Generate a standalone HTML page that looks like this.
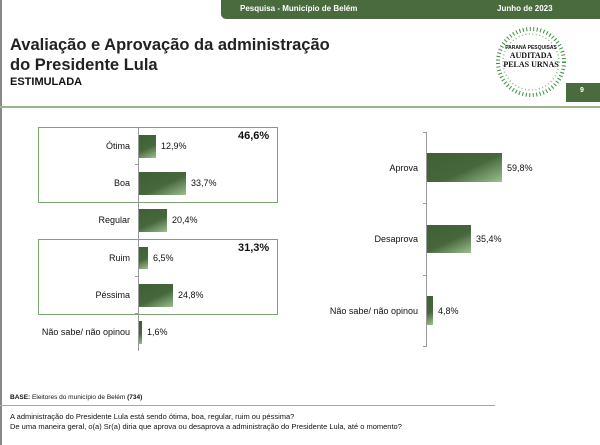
<!DOCTYPE html>
<html><head><meta charset="utf-8"><style>
body{margin:0;width:600px;height:445px;background:#fff;position:relative;overflow:hidden;font-family:"Liberation Sans",Arial,sans-serif;color:#111}
.a{position:absolute}
.t{position:absolute;font-size:9px;white-space:nowrap}
.bar{position:absolute;background:linear-gradient(155deg,#3f5f35 0%,#46673c 55%,#9cc08f 100%)}
.r{text-align:right}
.tk{position:absolute;width:4px;height:1px;background:#999}
</style></head><body>
<div class="a" style="left:0;top:0;width:2px;height:445px;background:#888"></div>
<div class="a" style="left:221px;top:0;width:379px;height:19px;background:#4a6b3e;border-bottom-left-radius:5px"></div>
<div class="t" style="left:240px;top:4px;color:#fff;font-weight:bold;font-size:8px">Pesquisa - Município de Belém</div>
<div class="t" style="left:497px;top:4px;color:#fff;font-weight:bold;font-size:8px">Junho de 2023</div>
<div class="t" style="left:10px;top:35px;font-size:16.5px;font-weight:bold;line-height:20px;color:#222">Avaliação e Aprovação da administração<br>do Presidente Lula</div>
<div class="t" style="left:10px;top:76px;font-size:11px;font-weight:bold">ESTIMULADA</div>
<svg class="a" style="left:493px;top:24px" width="76" height="76"><circle cx="38" cy="38" r="33" fill="none" stroke="#3e8e3e" stroke-width="4" stroke-dasharray="1 2.5"/><circle cx="38" cy="38" r="28" fill="none" stroke="#8aba8a" stroke-width="1.5" stroke-dasharray="1 2.5"/></svg>
<div class="t" style="left:500px;top:45px;width:62px;text-align:center;font-size:5px;font-weight:bold;line-height:7px">PARANÁ PESQUISAS<br><span style="font-size:8px;font-family:'Liberation Serif',serif">AUDITADA<br>PELAS URNAS</span></div>
<div class="a" style="left:566px;top:83px;width:34px;height:19px;background:#4a6b3e"></div>
<div class="t" style="left:580px;top:87px;color:#fff;font-size:7px;font-weight:bold">9</div>
<div class="a" style="left:0;top:106px;width:600px;height:2px;background:#9bb48f"></div>

<div class="a" style="left:38px;top:127px;width:238px;height:74px;border:1px solid #7aa56e"></div>
<div class="a" style="left:38px;top:239px;width:238px;height:74px;border:1px solid #7aa56e"></div>
<div class="a" style="left:138px;top:127px;width:1px;height:224px;background:#999"></div>
<div class="tk" style="left:135px;top:164px"></div><div class="tk" style="left:135px;top:239px"></div><div class="tk" style="left:135px;top:276px"></div><div class="tk" style="left:135px;top:313px"></div>
<div class="bar" style="left:139px;top:135px;width:17px;height:23px"></div>
<div class="bar" style="left:139px;top:172px;width:47px;height:23px"></div>
<div class="bar" style="left:139px;top:209px;width:28px;height:23px"></div>
<div class="bar" style="left:139px;top:247px;width:9px;height:22px"></div>
<div class="bar" style="left:139px;top:284px;width:34px;height:23px"></div>
<div class="bar" style="left:139px;top:321px;width:3px;height:23px"></div>
<div class="t r" style="left:30px;width:100px;top:141px">Ótima</div>
<div class="t r" style="left:30px;width:100px;top:178px">Boa</div>
<div class="t r" style="left:30px;width:100px;top:215px">Regular</div>
<div class="t r" style="left:30px;width:100px;top:253px">Ruim</div>
<div class="t r" style="left:30px;width:100px;top:290px">Péssima</div>
<div class="t r" style="left:30px;width:100px;top:327px">Não sabe/ não opinou</div>
<div class="t" style="left:161px;top:141px">12,9%</div>
<div class="t" style="left:191px;top:178px">33,7%</div>
<div class="t" style="left:172px;top:215px">20,4%</div>
<div class="t" style="left:153px;top:253px">6,5%</div>
<div class="t" style="left:178px;top:290px">24,8%</div>
<div class="t" style="left:147px;top:327px">1,6%</div>
<div class="t" style="left:238px;top:130px;font-size:11px;font-weight:bold">46,6%</div>
<div class="t" style="left:238px;top:242px;font-size:11px;font-weight:bold">31,3%</div>

<div class="a" style="left:426px;top:132px;width:1px;height:215px;background:#999"></div>
<div class="tk" style="left:423px;top:132px"></div><div class="tk" style="left:423px;top:203px"></div><div class="tk" style="left:423px;top:275px"></div><div class="tk" style="left:423px;top:346px"></div>
<div class="bar" style="left:427px;top:153px;width:75px;height:29px"></div>
<div class="bar" style="left:427px;top:225px;width:44px;height:28px"></div>
<div class="bar" style="left:427px;top:296px;width:6px;height:29px"></div>
<div class="t r" style="left:318px;width:100px;top:163px">Aprova</div>
<div class="t r" style="left:318px;width:100px;top:234px">Desaprova</div>
<div class="t r" style="left:318px;width:100px;top:306px">Não sabe/ não opinou</div>
<div class="t" style="left:507px;top:163px">59,8%</div>
<div class="t" style="left:476px;top:234px">35,4%</div>
<div class="t" style="left:438px;top:306px">4,8%</div>

<div class="t" style="left:10px;top:394px;font-size:6.5px"><b>BASE:</b> Eleitores do município de Belém <b>(734)</b></div>
<div class="a" style="left:0;top:405px;width:495px;height:1px;background:#9bb48f"></div>
<div class="t" style="left:10px;top:412px;font-size:7.5px;line-height:10px">A administração do Presidente Lula está sendo ótima, boa, regular, ruim ou péssima?<br>De uma maneira geral, o(a) Sr(a) diria que aprova ou desaprova a administração do Presidente Lula, até o momento?</div>
</body></html>
